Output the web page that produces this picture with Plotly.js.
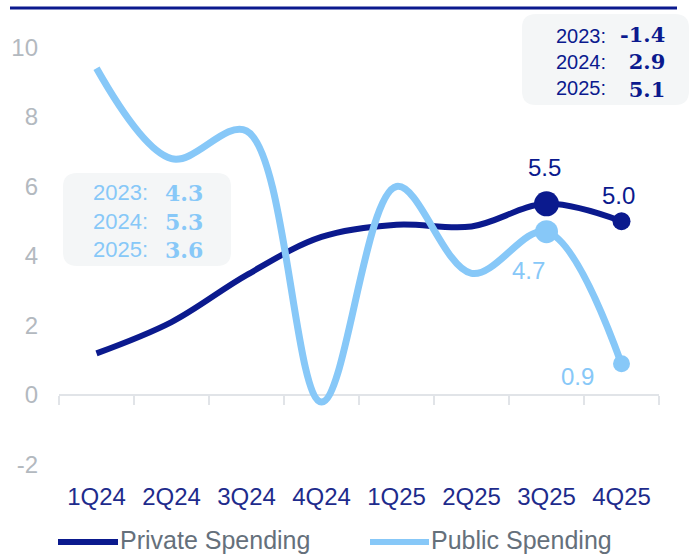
<!DOCTYPE html>
<html>
<head>
<meta charset="utf-8">
<script src="https://cdn.plot.ly/plotly-3.0.1.min.js"></script>
<style>html,body{margin:0;padding:0;background:#fff;}#chart{width:690px;height:557px;}</style>
</head>
<body>
<div id="chart"></div>
<script>
// ---- data ----
const quarters = ['1Q24','2Q24','3Q24','4Q24','1Q25','2Q25','3Q25','4Q25'];
const privateSpending = [1.2, 2.1, 3.45, 4.55, 4.9, 4.85, 5.5, 5.0];
const publicSpending = [9.4, 6.8, 7.6, -0.2, 6.0, 3.5, 4.7, 0.9];
const labelledIdx = [6, 7];
const yTicks = [-2, 0, 2, 4, 6, 8, 10];
const years = [2023, 2024, 2025];
const privateAnnual = [-1.4, 2.9, 5.1];
const publicAnnual = [4.3, 5.3, 3.6];
const seriesNames = ['Private Spending', 'Public Spending'];

// ---- style ----
const NAVY = '#0b1a8e';
const LIGHT = '#87c8f8';
const SANS = 'Liberation Sans, Arial, sans-serif';
const SERIF = 'DejaVu Serif, Georgia, serif';
const W = 690, H = 557;
const M = {l: 59, r: 31, t: 37, b: 82};
const yRange = [-2.3, 10.3];
const pw = W - M.l - M.r, ph = H - M.t - M.b;
const px = x => (x - M.l) / pw;
const py = y => (H - M.b - y) / ph;

function roundRect(x0, y0, x1, y1, r) {
  const X = px, Y = py;
  return 'M' + X(x0 + r) + ',' + Y(y0) +
    ' L' + X(x1 - r) + ',' + Y(y0) + ' Q' + X(x1) + ',' + Y(y0) + ' ' + X(x1) + ',' + Y(y0 + r) +
    ' L' + X(x1) + ',' + Y(y1 - r) + ' Q' + X(x1) + ',' + Y(y1) + ' ' + X(x1 - r) + ',' + Y(y1) +
    ' L' + X(x0 + r) + ',' + Y(y1) + ' Q' + X(x0) + ',' + Y(y1) + ' ' + X(x0) + ',' + Y(y1 - r) +
    ' L' + X(x0) + ',' + Y(y0 + r) + ' Q' + X(x0) + ',' + Y(y0) + ' ' + X(x0 + r) + ',' + Y(y0) + ' Z';
}

const markerSizes = (big, small) => quarters.map((q, i) => i === labelledIdx[0] ? big : (i === labelledIdx[1] ? small : 0));

const traces = [
  {
    x: quarters, y: privateSpending, name: seriesNames[0], type: 'scatter', mode: 'lines+markers',
    line: {color: NAVY, width: 6, shape: 'spline', smoothing: 1},
    marker: {color: NAVY, size: markerSizes(25, 18), opacity: 1, line: {width: 0}},
    hoverinfo: 'skip', cliponaxis: false
  },
  {
    x: quarters, y: publicSpending, name: seriesNames[1], type: 'scatter', mode: 'lines+markers',
    line: {color: LIGHT, width: 7, shape: 'spline', smoothing: 1},
    marker: {color: LIGHT, size: markerSizes(23, 17), opacity: 1, line: {width: 0}},
    hoverinfo: 'skip', cliponaxis: false
  },
  {
    x: quarters, y: privateSpending, xaxis: 'x2', type: 'scatter', mode: 'lines',
    line: {width: 0}, opacity: 0, showlegend: false, hoverinfo: 'skip'
  }
];

// point labels (offsets in px from the data point)
const pointLabels = [
  {series: privateSpending, i: 6, color: NAVY, dx: -2, dy: 36},
  {series: privateSpending, i: 7, color: NAVY, dx: -3, dy: 26},
  {series: publicSpending, i: 6, color: LIGHT, dx: -18, dy: -39},
  {series: publicSpending, i: 7, color: LIGHT, dx: -44, dy: -13}
].map(p => ({
  xref: 'x', yref: 'y', x: quarters[p.i], y: p.series[p.i], text: p.series[p.i].toFixed(1),
  showarrow: false, xshift: p.dx, yshift: p.dy, xanchor: 'center', yanchor: 'middle',
  font: {family: SANS, size: 24, color: p.color}
}));

function boxAnnotations(vals, color, xLab, xValRight, yMid, labSize, valSize) {
  return [
    {xref: 'paper', yref: 'paper', x: px(xLab), y: py(yMid), xanchor: 'left', yanchor: 'middle',
     align: 'left', showarrow: false, text: years.map(y => y + ':').join('<br>'),
     font: {size: labSize, color: color, family: SANS}},
    {xref: 'paper', yref: 'paper', x: px(xValRight), y: py(yMid), xanchor: 'right', yanchor: 'middle',
     align: 'right', showarrow: false, text: vals.map(v => '<b>' + v.toFixed(1) + '</b>').join('<br>'),
     font: {size: valSize, color: color, family: SERIF}}
  ];
}

// legend drawn manually
const LEG_Y = 540;
const legendItems = [
  {name: seriesNames[0], color: NAVY, x0: 58, x1: 118, tx: 118},
  {name: seriesNames[1], color: LIGHT, x0: 370, x1: 429, tx: 429}
];
const legendShapes = legendItems.map(l => ({
  type: 'line', xref: 'paper', yref: 'paper', x0: px(l.x0), x1: px(l.x1), y0: py(LEG_Y + 2), y1: py(LEG_Y + 2),
  line: {color: l.color, width: 6}
}));
const legendAnns = legendItems.map(l => ({
  xref: 'paper', yref: 'paper', x: px(l.tx), y: py(LEG_Y), xanchor: 'left', yanchor: 'middle',
  showarrow: false, text: l.name, font: {size: 25, color: '#65707b', family: SANS}
}));

const layout = {
  width: W, height: H,
  margin: M,
  paper_bgcolor: '#ffffff', plot_bgcolor: 'rgba(0,0,0,0)',
  font: {family: SANS},
  showlegend: false,
  xaxis: {
    type: 'category', range: [-0.5, 7.5], showgrid: false, zeroline: false, showline: false,
    ticks: '', tickfont: {size: 24, color: '#1e2b8c'}, ticklabelstandoff: 5, fixedrange: true
  },
  xaxis2: {
    type: 'category', overlaying: 'x', anchor: 'free', position: (0 - yRange[0]) / (yRange[1] - yRange[0]),
    range: [-0.5, 7.5], showgrid: false, zeroline: false, showline: false, showticklabels: false,
    ticks: 'outside', tickson: 'boundaries', ticklen: 9, tickwidth: 2, tickcolor: '#e1e4e8'
  },
  yaxis: {
    range: yRange, tickmode: 'array', tickvals: yTicks, ticktext: yTicks.map(v => String(v)),
    showgrid: false,
    zeroline: true, zerolinecolor: '#e1e4e8', zerolinewidth: 2, showline: false,
    ticks: '', tickfont: {size: 24, color: '#b3b9bf'}, ticklabelstandoff: 20, fixedrange: true
  },
  shapes: [
    {type: 'line', xref: 'paper', yref: 'paper', x0: px(10), x1: px(677), y0: py(8), y1: py(8),
     line: {color: NAVY, width: 3}},
    {type: 'path', xref: 'paper', yref: 'paper', path: roundRect(522, 14, 689, 105, 14),
     fillcolor: '#f4f6f7', line: {width: 0}, layer: 'below'},
    {type: 'path', xref: 'paper', yref: 'paper', path: roundRect(63, 173, 231, 266, 14),
     fillcolor: '#f4f6f7', line: {width: 0}, layer: 'below'}
  ].concat(legendShapes),
  annotations: []
    .concat(boxAnnotations(privateAnnual, NAVY, 554, 667, 62, 20, 21))
    .concat(boxAnnotations(publicAnnual, LIGHT, 91, 205, 221, 22, 22))
    .concat(pointLabels)
    .concat(legendAnns)
};

Plotly.newPlot('chart', traces, layout, {displayModeBar: false, staticPlot: true});
</script>
</body>
</html>
